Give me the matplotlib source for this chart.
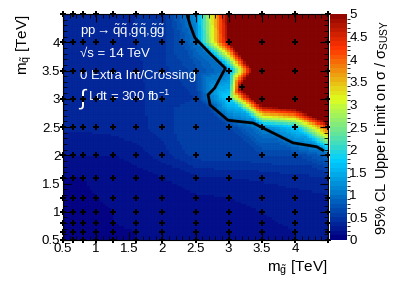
import matplotlib
matplotlib.use("Agg")
import matplotlib.pyplot as plt
import matplotlib.tri as mtri
from matplotlib.colors import LinearSegmentedColormap, BoundaryNorm
import numpy as np

plt.rcParams['font.family'] = ['Liberation Sans', 'DejaVu Sans']
plt.rcParams['mathtext.fontset'] = 'custom'
plt.rcParams['mathtext.rm'] = 'Liberation Sans'
plt.rcParams['mathtext.it'] = 'Liberation Sans'
plt.rcParams['mathtext.bf'] = 'Liberation Sans:bold'

# grid of signal points (TeV)
mgl = [0.5, 0.65, 0.8, 1.0, 1.25, 1.6, 2.0, 2.5, 3.0, 3.5, 4.0, 4.5]
msq = [0.5, 0.65, 0.8, 1.0, 1.25, 1.6, 2.0, 2.5, 3.0, 3.5, 4.0, 4.5]
extra_mgl = [2.3, 3.2]
extra_msq = [4.0, 3.2]
extra_limit = [0.7, 5.6]

# 95% CL upper limit on sigma/sigma_SUSY, rows = msq, cols = mgl
limit = [
    [0.08, 0.08, 0.08, 0.08, 0.09, 0.10, 0.12, 0.14, 0.16, 0.18, 0.20, 0.20],
    [0.08, 0.08, 0.08, 0.08, 0.09, 0.10, 0.12, 0.14, 0.16, 0.18, 0.20, 0.22],
    [0.08, 0.08, 0.08, 0.09, 0.10, 0.11, 0.13, 0.15, 0.17, 0.19, 0.21, 0.23],
    [0.08, 0.08, 0.09, 0.09, 0.10, 0.11, 0.13, 0.16, 0.18, 0.20, 0.22, 0.25],
    [0.09, 0.09, 0.09, 0.10, 0.11, 0.12, 0.15, 0.18, 0.20, 0.22, 0.25, 0.28],
    [0.10, 0.10, 0.10, 0.11, 0.12, 0.14, 0.20, 0.28, 0.30, 0.32, 0.36, 0.40],
    [0.20, 0.20, 0.20, 0.20, 0.20, 0.25, 0.35, 0.55, 0.55, 0.60, 0.60, 0.90],
    [0.32, 0.32, 0.32, 0.33, 0.34, 0.36, 0.45, 0.60, 0.60, 1.10, 1.70, 4.30],
    [0.33, 0.33, 0.33, 0.34, 0.35, 0.37, 0.45, 0.50, 1.80, 6.40, 7.00, 12.0],
    [0.34, 0.34, 0.34, 0.35, 0.36, 0.38, 0.45, 0.65, 1.05, 6.60, 12.0, 12.0],
    [0.35, 0.35, 0.35, 0.36, 0.37, 0.40, 0.45, 1.00, 5.00, 9.00, 12.0, 12.0],
    [0.36, 0.36, 0.36, 0.37, 0.38, 0.40, 0.45, 1.20, 5.20, 12.0, 12.0, 12.0],
]

# exclusion contour (limit = 1)
cont_mgl = [2.37, 2.42, 2.49, 2.72, 2.95, 2.79, 2.69, 2.72, 2.99, 3.37, 3.73, 3.97, 4.33, 4.42]
cont_msq = [4.50, 4.30, 4.08, 3.80, 3.54, 3.19, 3.07, 2.89, 2.62, 2.57, 2.36, 2.22, 2.15, 2.09]

# ROOT style gradient palette
stops = [0.00, 0.34, 0.61, 0.84, 1.00]
red   = [0.00, 0.00, 0.87, 1.00, 0.51]
green = [0.00, 0.81, 1.00, 0.20, 0.00]
blue  = [0.51, 1.00, 0.12, 0.00, 0.00]
cmap = LinearSegmentedColormap.from_list(
    'root', [(s, (r, g, b)) for s, r, g, b in zip(stops, red, green, blue)], N=256)
levels = np.linspace(0, 5, 51)
norm = BoundaryNorm(levels, cmap.N, extend='max')

fig = plt.figure(figsize=(3.99, 2.86), dpi=100)
ax = fig.add_axes([63/399, 1-240/286, 265/399, 226/286])
cax = fig.add_axes([329.5/399, 1-240/286, 17/399, 226/286])

# triangulate the grid (plus the two off-grid points), interpolate onto fine bins
nx = len(mgl)
PX, PY = np.meshgrid(mgl, msq)
px = np.concatenate([PX.ravel(), extra_mgl])
py = np.concatenate([PY.ravel(), extra_msq])
pz = np.concatenate([np.array(limit).ravel(), extra_limit])
e_top, e_mid = nx * len(msq), nx * len(msq) + 1
i23, j40 = mgl.index(2.0), msq.index(4.0)
i30, j30 = mgl.index(3.0), msq.index(3.0)
triangles = []
for j in range(len(msq) - 1):
    for i in range(nx - 1):
        a, b = j * nx + i, j * nx + i + 1
        d, c = (j + 1) * nx + i, (j + 1) * nx + i + 1
        if (i, j) == (i30, j30):
            triangles += [[a, b, e_mid], [b, c, e_mid], [c, d, e_mid], [d, a, e_mid]]
        elif (i, j) == (i23, j40):
            triangles += [[a, e_top, d], [e_top, c, d], [e_top, b, c]]
        elif (i, j) == (i23, j40 - 1):
            triangles += [[a, b, e_top], [a, e_top, d], [b, c, e_top]]
        else:
            triangles += [[a, b, d], [b, c, d]]
tri = mtri.Triangulation(px, py, triangles)
interp = mtri.LinearTriInterpolator(tri, pz)
edges = np.linspace(0.5, 4.5, 101)
cent = 0.5 * (edges[1:] + edges[:-1])
CX, CY = np.meshgrid(cent, cent)
CZ = interp(CX, CY)
mesh = ax.pcolormesh(edges, edges, CZ, cmap=cmap, norm=norm, antialiased=True,
                     edgecolors=(1, 1, 1, 0.03), linewidth=0.3)

ax.plot(cont_mgl, cont_msq, color='black', lw=2)
ax.plot(px, py, 'P', color='black', ms=4, mew=0, clip_on=False, zorder=5)

ax.set_xlim(0.5, 4.5)
ax.set_ylim(0.5, 4.5)
ticks = np.arange(0.5, 4.51, 0.5)
labels = ['0.5', '1', '1.5', '2', '2.5', '3', '3.5', '4', '']
ax.set_xticks(ticks)
ax.set_xticklabels(labels)
ax.set_yticks(ticks)
ax.set_yticklabels(labels)
ax.set_xticks(np.arange(0.5, 4.51, 0.1), minor=True)
ax.set_yticks(np.arange(0.5, 4.51, 0.1), minor=True)
ax.tick_params(which='both', direction='in', top=True, right=True, labelsize=9.5, pad=2)
ax.tick_params(which='major', length=6)
ax.tick_params(which='minor', length=3)

ax.set_xlabel(r'm$_{\tilde{g}}$ [TeV]', fontsize=11, loc='right', labelpad=3)
ax.set_ylabel(r'm$_{\tilde{q}}$ [TeV]', fontsize=11, loc='top')
ax.yaxis.set_label_coords(-0.11, 1.0)

tkw = dict(color='white', fontsize=9.5, transform=ax.transAxes, va='center', ha='left')
ax.text(0.065, 0.925, r'pp$\rightarrow\tilde{\mathrm{q}}\tilde{\mathrm{q}}$,$\tilde{\mathrm{g}}\tilde{\mathrm{q}}$,$\tilde{\mathrm{g}}\tilde{\mathrm{g}}$', **tkw)
ax.text(0.065, 0.823, '√s = 14 TeV', **tkw)
ax.text(0.065, 0.726, '0 Extra Int/Crossing', **tkw)
ax.text(0.058, 0.622, r'$\int$', color='white', fontsize=16, transform=ax.transAxes,
        va='center', ha='left')
ax.text(0.095, 0.636, r'Ldt = 300 fb$^{-1}$', **tkw)

cb = fig.colorbar(mesh, cax=cax, ticks=np.arange(0, 5.01, 0.5), extend='neither')
cb.ax.set_ylim(0, 5)
cb.ax.set_yticklabels(['0', '0.5', '1', '1.5', '2', '2.5', '3', '3.5', '4', '4.5', '5'])
cb.ax.tick_params(labelsize=9.5, length=0, pad=2)
cb.outline.set_visible(False)
cb.set_label(r'95% CL Upper Limit on σ / σ$_{\mathrm{SUSY}}$', fontsize=10.5, labelpad=4)

fig.savefig('out.png', dpi=100)
